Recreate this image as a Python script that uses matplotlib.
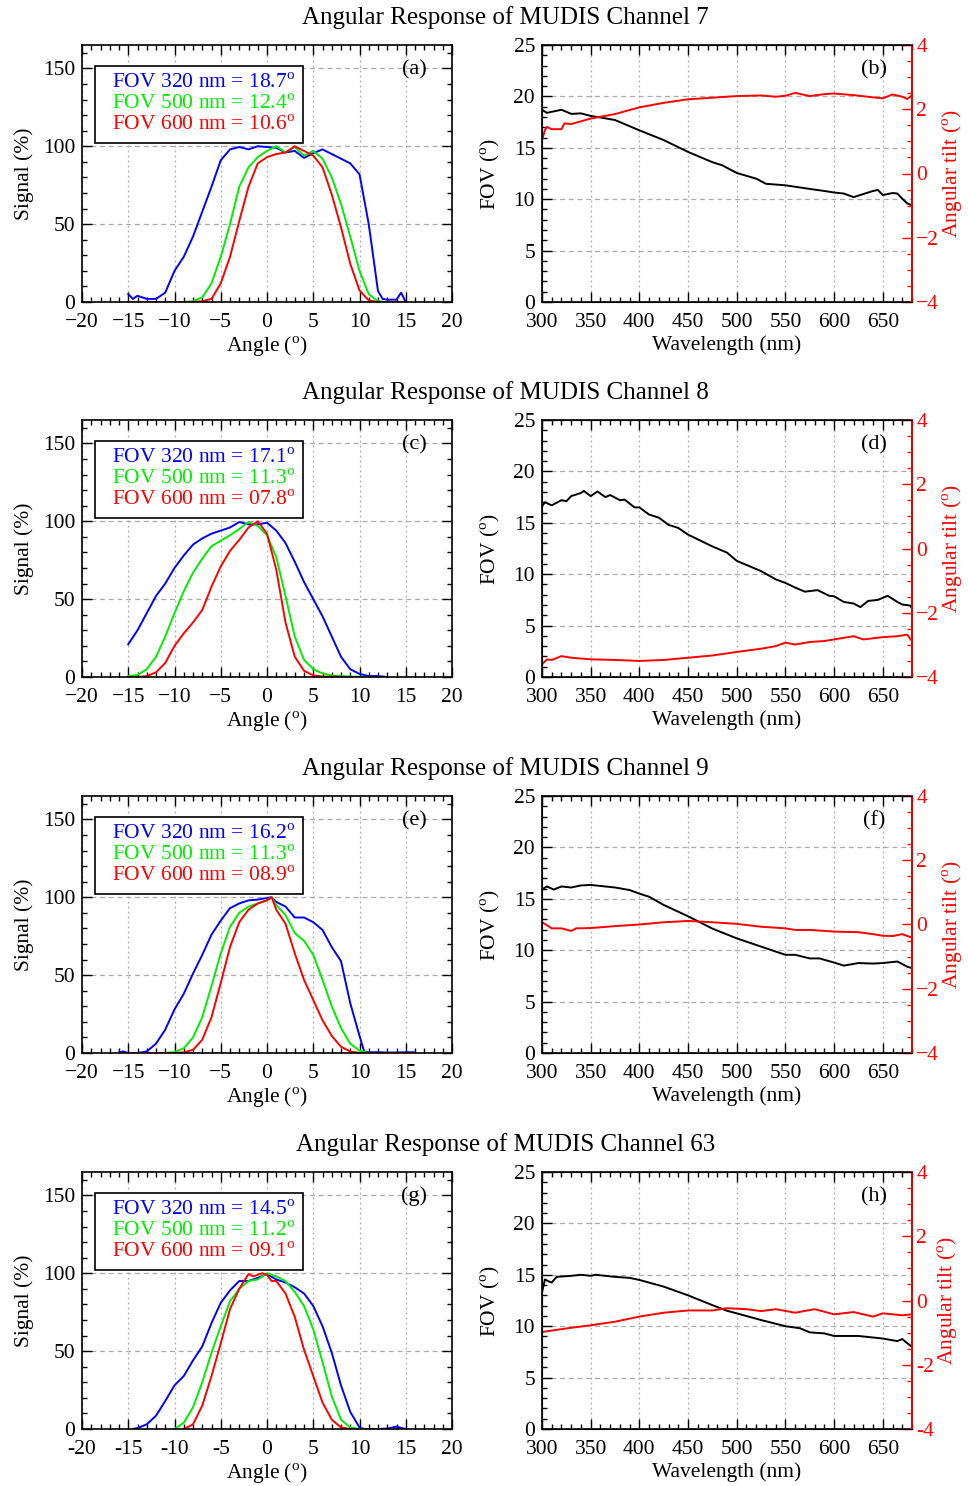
import matplotlib
matplotlib.use('Agg')
import matplotlib.pyplot as plt
from matplotlib.lines import Line2D
from matplotlib.ticker import MultipleLocator, FuncFormatter

plt.rcParams['font.family'] = ['Liberation Serif', 'DejaVu Serif']
plt.rcParams['mathtext.fontset'] = 'custom'
plt.rcParams['mathtext.rm'] = 'Liberation Serif'
plt.rcParams['font.size'] = 15.5

# ---- channel names and FOV labels
channels = ['7', '8', '9', '63']
panel_left = ['(a)', '(c)', '(e)', '(g)']
panel_right = ['(b)', '(d)', '(f)', '(h)']
fov_320 = ['18.7', '17.1', '16.2', '14.5']
fov_500 = ['12.4', '11.3', '11.3', '11.2']
fov_600 = ['10.6', '07.8', '08.9', '09.1']

# ---- angular response, channel 7
ang7_b = [-15, -14.5, -14, -13, -12, -11, -10, -9, -8, -7, -6, -5, -4, -3, -2, -1, 0, 1, 2, 3, 4, 5, 6, 7, 8, 9,
          10, 11, 12, 12.5, 13, 14, 14.5, 15]
sig7_b = [5, 2, 4, 2, 2, 6, 20, 29, 42, 58, 74, 91, 98, 99.5, 98, 100, 99.5, 99, 96, 97, 92.5, 95.5, 98, 95, 92, 89,
          82, 50, 7, 2, 1.5, 1.5, 6, 0]
ang7_g = list(range(-15, 16))
sig7_g = [0, 0, 0, 0, 0, 0, 0, 0.5, 3, 12, 29, 50, 74, 86.5, 93, 97, 100, 96, 99.5, 94, 97, 92, 80, 63, 42, 20,
          5, 0.5, 0, 0, 0]
ang7_r = list(range(-15, 16))
sig7_r = [0, 0, 0, 0, 0, 0, 0, 0, 0.5, 2, 12, 29, 52, 74, 89, 93, 95, 96, 100, 97, 94, 86.5, 69, 48, 24.5, 7.5,
          1, 0, 0, 0, 0]

# ---- channel 8
ang8_b = list(range(-15, 14))
sig8_b = [21, 30, 41, 52, 60, 70, 78, 85, 89, 92, 94, 96, 99.5, 98, 98, 99, 94, 86, 74, 61, 50, 39, 26, 13, 5, 2,
          0.6, 0.6, 0]
ang8_g = list(range(-15, 12))
sig8_g = [0.6, 1.3, 5, 13, 26, 41, 55, 67, 76, 84, 87.5, 91, 95, 99.5, 97, 91, 77, 52, 26, 11, 5, 2.3, 1, 0.6,
          0.3, 0.2, 0]
ang8_r = list(range(-15, 11))
sig8_r = [0, 0, 0.6, 3, 9, 20, 28, 35, 43, 58, 71, 81, 88, 96, 100, 92, 69, 35, 13, 4, 1, 0.3, 0.2, 0.1, 0, 0]

# ---- channel 9
ang9_b = [-16, -15.5, -15, -14, -13, -12, -11, -10, -9, -8, -7, -6, -5, -4, -3, -2, -1, 0, 0.5, 1, 2, 3, 4, 5, 6,
          7, 8, 9, 10, 10.5, 11, 12, 13, 14, 15, 16]
sig9_b = [0.5, 1, 0, 0, 1, 6, 15, 28, 38, 51, 63, 76, 85, 93, 96, 98, 98.5, 99.5, 100, 97, 94, 87, 87, 84, 79,
          68, 59, 32, 11, 1, 0.5, 0.5, 0.3, 0.3, 0.5, 0.5]
ang9_g = [-16, -15, -14, -13, -12, -11, -10, -9, -8, -7, -6, -5, -4, -3, -2, -1, 0, 0.5, 1, 2, 3, 4, 5, 6, 7, 8,
          9, 10, 11, 12, 13, 14, 15, 16]
sig9_g = [0, 0, 0, 0, 0, 0, 0.6, 3, 10, 23, 43, 64, 81, 90, 94, 96, 98, 100, 95, 88.5, 77, 72, 63, 47, 30, 16,
          6, 1.5, 0, 0, 0, 0, 0, 0]
ang9_r = [-16, -15, -14, -13, -12, -11, -10, -9, -8, -7, -6, -5, -4, -3, -2, -1, 0, 0.5, 1, 2, 3, 4, 5, 6, 7, 8,
          9, 10, 11, 12, 13, 14, 15, 16]
sig9_r = [0, 0, 0, 0, 0, 0, 0, 0.4, 2, 8.5, 23, 45, 68, 84, 92, 96, 98, 100, 92, 83, 64, 47, 34, 21, 11, 4,
          1, 0, 0, 0, 0, 0, 0, 0]

# ---- channel 63
ang63_b = [-14.5, -14, -13, -12, -11, -10, -9, -8, -7, -6, -5, -4, -3, -2, -1, 0, 1, 2, 3, 4, 5, 6, 7, 8, 9, 10,
           10.5, 11, 12, 13, 14, 15]
sig63_b = [0, 0.6, 3, 8.5, 18, 28, 34, 44, 53, 68, 81, 89, 95, 95, 97, 99.5, 96, 94, 91, 87, 79, 66, 49, 28, 11,
           1, 0, 0, 0, 0.3, 1.5, 0]
ang63_g = [-10, -9, -8, -7, -6, -5, -4, -3, -2, -1, 0, 1, 2, 3, 4, 5, 6, 7, 8, 9, 10, 10.5]
sig63_g = [0, 4, 14, 30, 49, 66, 82, 90, 95, 96, 100, 98, 95, 88, 79, 64, 43, 21, 6, 1, 0, 0]
ang63_r = [-9, -8, -7, -6, -5, -4, -3, -2, -1.5, -1, -0.5, 0, 0.5, 1, 2, 3, 4, 5, 6, 7, 8, 9, 9.5]
sig63_r = [0, 3, 15, 34, 55, 77, 90, 99.5, 98, 99, 100, 99, 95, 95, 87, 72, 51, 34, 17, 6, 1, 0, 0]

# ---- FOV and angular tilt vs wavelength
wl7_fov = [300, 305, 310, 320, 330, 340, 350, 360, 375, 400, 425, 450, 475, 485, 500, 520, 530, 550, 575, 590,
           600, 610, 620, 630, 640, 645, 650, 660, 665, 670, 675, 680]
fov7 = [18.7, 18.4, 18.5, 18.7, 18.3, 18.35, 18.1, 17.95, 17.7, 16.7, 15.75, 14.6, 13.6, 13.3, 12.55, 12.0, 11.5,
        11.35, 11.0, 10.8, 10.65, 10.55, 10.2, 10.5, 10.8, 10.9, 10.4, 10.6, 10.55, 10.05, 9.6, 9.4]
wl7_tilt = [300, 303, 305, 310, 320, 323, 330, 350, 375, 400, 425, 450, 475, 500, 525, 540, 550, 560, 575, 590,
            600, 620, 640, 650, 660, 670, 675, 680]
tilt7 = [1.04, 1.35, 1.45, 1.38, 1.38, 1.56, 1.54, 1.71, 1.85, 2.06, 2.2, 2.31, 2.36, 2.41, 2.43, 2.39, 2.42, 2.51,
         2.41, 2.47, 2.49, 2.44, 2.37, 2.34, 2.46, 2.39, 2.32, 2.43]

wl8_fov = [300, 303, 310, 320, 325, 330, 340, 343, 350, 357, 365, 370, 380, 385, 395, 400, 410, 420, 430, 440,
           450, 475, 490, 500, 510, 525, 540, 550, 560, 570, 583, 595, 600, 610, 620, 627, 635, 645, 655, 665,
           670, 678, 680]
fov8 = [16.6, 17.0, 16.7, 17.2, 17.1, 17.6, 17.9, 18.1, 17.6, 18.05, 17.5, 17.7, 17.2, 17.25, 16.5, 16.5, 15.8,
        15.5, 14.8, 14.5, 13.85, 12.7, 12.1, 11.3, 10.9, 10.3, 9.5, 9.15, 8.7, 8.3, 8.45, 7.9, 7.85, 7.3, 7.15,
        6.8, 7.4, 7.5, 7.9, 7.3, 7.05, 6.95, 6.7]
wl8_tilt = [300, 305, 310, 320, 330, 350, 375, 400, 425, 450, 475, 500, 525, 540, 550, 560, 575, 590, 600, 620,
            630, 650, 665, 675, 680]
tilt8 = [-3.61, -3.45, -3.47, -3.35, -3.4, -3.45, -3.47, -3.5, -3.47, -3.4, -3.33, -3.22, -3.12, -3.04, -2.93,
         -2.99, -2.91, -2.88, -2.83, -2.73, -2.83, -2.76, -2.73, -2.68, -2.88]

wl9_fov = [300, 305, 312, 320, 330, 340, 350, 360, 375, 390, 400, 410, 425, 450, 475, 500, 525, 550, 560, 575,
           585, 600, 610, 625, 640, 650, 665, 675, 680]
fov9 = [15.9, 16.2, 15.9, 16.2, 16.1, 16.3, 16.35, 16.25, 16.1, 15.85, 15.5, 15.2, 14.4, 13.3, 12.1, 11.15, 10.35,
        9.55, 9.55, 9.2, 9.2, 8.8, 8.5, 8.75, 8.7, 8.75, 8.9, 8.4, 8.25]
wl9_tilt = [300, 305, 310, 320, 330, 335, 350, 375, 400, 425, 450, 475, 500, 525, 550, 560, 575, 590, 600, 625,
            640, 650, 660, 670, 680]
tilt9 = [0.07, -0.02, -0.12, -0.12, -0.2, -0.12, -0.11, -0.05, 0.0, 0.07, 0.11, 0.07, 0.02, -0.07, -0.12, -0.17,
         -0.17, -0.2, -0.22, -0.24, -0.3, -0.35, -0.36, -0.3, -0.41]

wl63_fov = [300, 303, 307, 310, 315, 330, 340, 350, 355, 375, 390, 400, 425, 450, 475, 490, 500, 525, 550, 565,
            575, 590, 600, 625, 640, 650, 665, 670, 675, 680]
fov63 = [13.3, 14.55, 14.35, 14.25, 14.8, 14.9, 15.0, 14.9, 15.0, 14.8, 14.7, 14.5, 13.85, 13.0, 12.05, 11.5,
         11.25, 10.6, 10.0, 9.8, 9.4, 9.3, 9.05, 9.05, 8.9, 8.8, 8.55, 8.75, 8.35, 8.0]
wl63_tilt = [300, 325, 350, 375, 400, 425, 450, 475, 490, 510, 525, 540, 560, 580, 600, 620, 640, 650, 670, 680]
tilt63 = [-0.98, -0.87, -0.77, -0.66, -0.5, -0.38, -0.31, -0.31, -0.24, -0.27, -0.33, -0.27, -0.38, -0.27,
          -0.43, -0.36, -0.5, -0.4, -0.46, -0.43]

angular = [
    ((ang7_b, sig7_b), (ang7_g, sig7_g), (ang7_r, sig7_r)),
    ((ang8_b, sig8_b), (ang8_g, sig8_g), (ang8_r, sig8_r)),
    ((ang9_b, sig9_b), (ang9_g, sig9_g), (ang9_r, sig9_r)),
    ((ang63_b, sig63_b), (ang63_g, sig63_g), (ang63_r, sig63_r)),
]
spectral = [
    (wl7_fov, fov7, wl7_tilt, tilt7),
    (wl8_fov, fov8, wl8_tilt, tilt8),
    (wl9_fov, fov9, wl9_tilt, tilt9),
    (wl63_fov, fov63, wl63_tilt, tilt63),
]

W, H = 968, 1486
fig = plt.figure(figsize=(W / 100, H / 100), dpi=100)

row_top = [45, 420, 796, 1172]
title_y = [18, 393, 769, 1145]
ax_h = 257
colors = ['#0000ff', '#00ee00', '#ff0000']
fs = 15.5
xgrid_kw = dict(color='#aaaaaa', linestyle=(0, (1.5, 2.5)), linewidth=0.9)
ygrid_kw = dict(color='#aaaaaa', linestyle=(0, (4, 3)), linewidth=0.9)
deg = r'$^{\rm o}$'


def style_ticks(ax, right=True):
    ax.tick_params(which='both', direction='in', top=True, right=right, width=1.0, labelsize=fs)
    ax.tick_params(which='major', length=7)
    ax.tick_params(which='minor', length=3.5)
    ax.tick_params(axis='x', which='both', pad=8)
    ax.tick_params(axis='y', which='both', pad=5)
    for s in ax.spines.values():
        s.set_linewidth(1.2)


for i, ch in enumerate(channels):
    minus = '-' if ch == '63' else '\u2212'
    fmt = FuncFormatter(lambda v, p, m=minus: ('%g' % v).replace('-', m))
    bottom = 1 - (row_top[i] + ax_h) / H

    fig.text(0.522, 1 - title_y[i] / H, 'Angular Response of MUDIS Channel ' + ch,
             ha='center', va='center', fontsize=18)

    # left: angular response
    ax = fig.add_axes([82 / W, bottom, 370 / W, ax_h / H])
    for (x, y), c in zip(angular[i], colors):
        ax.plot(x, y, color=c, lw=1.4)
    ax.set_xlim(-20, 20)
    ax.set_ylim(0, 165)
    ax.xaxis.set_major_locator(MultipleLocator(5))
    ax.xaxis.set_minor_locator(MultipleLocator(1))
    ax.yaxis.set_major_locator(MultipleLocator(50))
    ax.yaxis.set_minor_locator(MultipleLocator(10))
    ax.xaxis.set_major_formatter(fmt)
    ax.xaxis.grid(True, which='major', **xgrid_kw)
    ax.yaxis.grid(True, which='major', **ygrid_kw)
    ax.set_axisbelow(True)
    style_ticks(ax)
    ax.set_xlabel('Angle (' + deg + ')', fontsize=fs, labelpad=2)
    ax.set_ylabel('Signal (%)', fontsize=fs, labelpad=6)
    handles = [Line2D([], [], color=c) for c in colors]
    labels = ['FOV 320 nm = ' + fov_320[i] + deg,
              'FOV 500 nm = ' + fov_500[i] + deg,
              'FOV 600 nm = ' + fov_600[i] + deg]
    leg = ax.legend(handles, labels, loc='upper left', bbox_to_anchor=(0.035, 0.92),
                    handlelength=0.45, handletextpad=0, labelcolor='linecolor', fancybox=False,
                    framealpha=1, edgecolor='black', fontsize=fs, borderpad=0.35,
                    labelspacing=0.05, borderaxespad=0)
    leg.get_frame().set_linewidth(1.2)
    for h in leg.legend_handles:
        h.set_visible(False)
    ax.text(0.897, 0.905, panel_left[i], transform=ax.transAxes, ha='center', va='center', fontsize=16)

    # right: FOV and angular tilt
    wl_f, fov, wl_t, tilt = spectral[i]
    ax2 = fig.add_axes([542 / W, bottom, 370 / W, ax_h / H])
    ax2.plot(wl_f, fov, color='black', lw=1.4)
    ax2.set_xlim(300, 680)
    ax2.set_ylim(0, 25)
    ax2.xaxis.set_major_locator(MultipleLocator(50))
    ax2.xaxis.set_minor_locator(MultipleLocator(10))
    ax2.yaxis.set_major_locator(MultipleLocator(5))
    ax2.yaxis.set_minor_locator(MultipleLocator(1))
    ax2.xaxis.grid(True, which='major', **xgrid_kw)
    ax2.yaxis.grid(True, which='major', **ygrid_kw)
    ax2.set_axisbelow(True)
    style_ticks(ax2, right=False)
    ax2.set_xlabel('Wavelength (nm)', fontsize=fs, labelpad=2)
    ax2.set_ylabel('FOV (' + deg + ')', fontsize=fs, labelpad=8)
    ax2.text(0.897, 0.905, panel_right[i], transform=ax2.transAxes, ha='center', va='center', fontsize=16)

    tw = ax2.twinx()
    tw.plot(wl_t, tilt, color='red', lw=1.4)
    tw.set_ylim(-4, 4)
    tw.yaxis.set_major_locator(MultipleLocator(2))
    tw.yaxis.set_minor_locator(MultipleLocator(0.5))
    tw.yaxis.set_major_formatter(fmt)
    tw.tick_params(which='both', direction='in', colors='red', labelsize=fs, width=1.0, pad=3)
    tw.tick_params(which='major', length=7)
    tw.tick_params(which='minor', length=3.5)
    tw.spines['right'].set_color('red')
    tw.spines['right'].set_linewidth(1.2)
    tw.set_ylabel('Angular tilt (' + deg + ')', color='red', fontsize=fs, labelpad=1)

fig.savefig('out.png', dpi=100)
